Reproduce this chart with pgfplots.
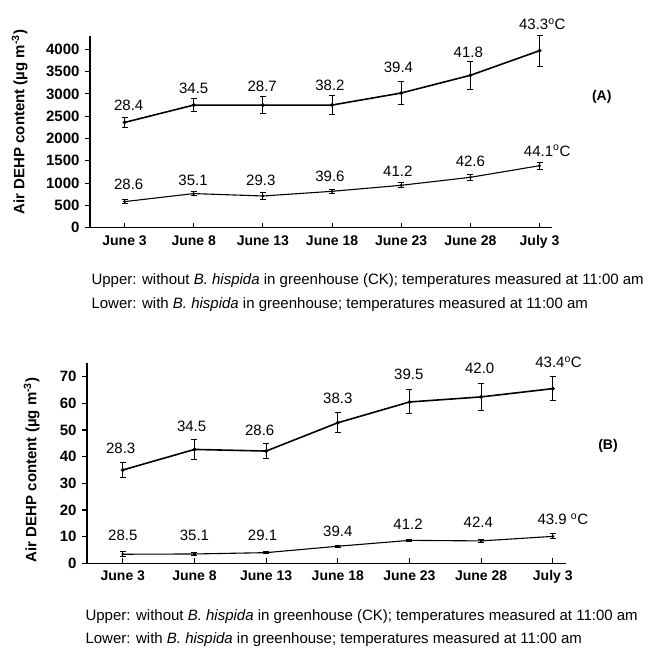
\documentclass[border=0pt]{standalone}
\usepackage{fontspec}
\setmainfont{Liberation Sans}
\usepackage{pgfplots}
\pgfplotsset{compat=1.18}
\newcommand{\tk}{\fontsize{14}{16}\selectfont\bfseries}
\newcommand{\ytk}{\fontsize{15}{16}\selectfont\bfseries}
\newcommand{\lb}{\fontsize{15}{16}\selectfont}
\newcommand{\cp}{\fontsize{15}{16}\selectfont}
\begin{document}
\begin{tikzpicture}
\useasboundingbox (0pt,0pt) rectangle (651pt,-654pt);
\pgfplotsset{
  panel/.style={
    scale only axis, anchor=south west, clip=false,
    axis lines=left, axis line style={-, line width=1.5pt},
    xmin=-0.5, xmax=6.18,
    xtick={0,...,6},
    xticklabels={June 3,June 8,June 13,June 18,June 23,June 28,July 3},
    tick align=inside, major tick length=5pt,
    tick style={line width=1.1pt, black},
    y tick style={xshift=-5pt},
    xtick pos=bottom, ytick pos=left,
    /pgf/number format/assume math mode=true,
    /pgf/number format/1000 sep={},
    x tick label style={font=\tk, yshift=-4pt},
    y tick label style={font=\ytk, xshift=-7pt},
    ylabel={\bfseries Air DEHP content (\textmu g m\textsuperscript{-3})},
    error bars/y dir=both, error bars/y explicit,
    error bars/error mark=|,
    error bars/error bar style={line width=1pt, black},
    error bars/error mark options={line width=1pt, mark size=3pt, black},
  },
  upper/.style={black, line width=1.6pt, mark=*, mark size=1pt},
  lower/.style={black, line width=1.1pt, mark=*, mark size=0.8pt},
}
% ---------------- Panel A ----------------
\begin{axis}[panel, at={(90pt,-227.7pt)}, width=462pt, height=192pt,
  ymin=0, ymax=4305, ytick={0,500,...,4000},
  every axis y label/.style={at={(rel axis cs:-0.152,0.55)}, rotate=90, anchor=center, font=\fontsize{15}{16}\selectfont}]
\addplot+[upper] table[x=x,y=y,y error=e,row sep=\\]{
x y e\\ 0 2360 110\\ 1 2750 150\\ 2 2750 200\\ 3 2750 210\\ 4 3020 265\\ 5 3417 318\\ 6 3969 344\\};
\addplot+[lower] table[x=x,y=y,y error=e,row sep=\\]{
x y e\\ 0 585 40\\ 1 765 50\\ 2 711 70\\ 3 816 50\\ 4 951 60\\ 5 1130 70\\ 6 1390 80\\};
\node[font=\lb] at (axis cs:0.06,2735) {28.4};
\node[font=\lb] at (axis cs:1.0,3117) {34.5};
\node[font=\lb] at (axis cs:1.99,3177) {28.7};
\node[font=\lb] at (axis cs:2.97,3200) {38.2};
\node[font=\lb] at (axis cs:3.96,3587) {39.4};
\node[font=\lb] at (axis cs:4.97,3933) {41.8};
\node[font=\lb] at (axis cs:6.04,4567) {43.3\textsuperscript{o}C};
\node[font=\lb] at (axis cs:0.06,973) {28.6};
\node[font=\lb] at (axis cs:0.99,1070) {35.1};
\node[font=\lb] at (axis cs:1.97,1070) {29.3};
\node[font=\lb] at (axis cs:2.97,1159) {39.6};
\node[font=\lb] at (axis cs:3.95,1271) {41.2};
\node[font=\lb] at (axis cs:5.0,1495) {42.6};
\node[font=\lb] at (axis cs:6.11,1726) {44.1\textsuperscript{o}C};
\node[font=\tk] at (axis cs:6.9,2937) {(A)};
\end{axis}
\node[anchor=west, font=\cp] at (88pt,-281pt) {Upper: without \textit{B. hispida} in greenhouse (CK); temperatures measured at 11:00 am};
\node[anchor=west, font=\cp] at (88pt,-305pt) {Lower: with \textit{B. hispida} in greenhouse; temperatures measured at 11:00 am};
% ---------------- Panel B ----------------
\begin{axis}[panel, at={(87pt,-563.3pt)}, width=478.7pt, height=200pt,
  ymin=0, ymax=75, ytick={0,10,...,70},
  every axis y label/.style={at={(rel axis cs:-0.1155,0.467)}, rotate=90, anchor=center, font=\fontsize{15}{16}\selectfont}]
\addplot+[upper] table[x=x,y=y,y error=e,row sep=\\]{
x y e\\ 0 35.0 2.9\\ 1 42.7 3.75\\ 2 42.1 2.9\\ 3 52.7 3.8\\ 4 60.5 4.5\\ 5 62.4 5.1\\ 6 65.5 4.4\\};
\addplot+[lower] table[x=x,y=y,y error=e,row sep=\\]{
x y e\\ 0 3.4 1.0\\ 1 3.5 0.5\\ 2 4.0 0.3\\ 3 6.4 0.4\\ 4 8.6 0.5\\ 5 8.4 0.5\\ 6 10.1 0.9\\};
\node[font=\lb] at (axis cs:-0.03,43.3) {28.3};
\node[font=\lb] at (axis cs:0.96,51.5) {34.5};
\node[font=\lb] at (axis cs:1.91,50.0) {28.6};
\node[font=\lb] at (axis cs:3.0,62.0) {38.3};
\node[font=\lb] at (axis cs:3.99,70.8) {39.5};
\node[font=\lb] at (axis cs:4.98,73.0) {42.0};
\node[font=\lb] at (axis cs:6.08,75.3) {43.4\textsuperscript{o}C};
\node[font=\lb] at (axis cs:0.0,10.6) {28.5};
\node[font=\lb] at (axis cs:1.0,10.6) {35.1};
\node[font=\lb] at (axis cs:1.95,10.6) {29.1};
\node[font=\lb] at (axis cs:3.0,12.1) {39.4};
\node[font=\lb] at (axis cs:3.98,14.7) {41.2};
\node[font=\lb] at (axis cs:4.96,15.3) {42.4};
\node[font=\lb] at (axis cs:6.14,16.4) {43.9 \textsuperscript{o}C};
\node[font=\tk] at (axis cs:6.77,44.1) {(B)};
\end{axis}
\node[anchor=west, font=\cp] at (82pt,-617pt) {Upper: without \textit{B. hispida} in greenhouse (CK); temperatures measured at 11:00 am};
\node[anchor=west, font=\cp] at (82pt,-640pt) {Lower: with \textit{B. hispida} in greenhouse; temperatures measured at 11:00 am};
\end{tikzpicture}
\end{document}
